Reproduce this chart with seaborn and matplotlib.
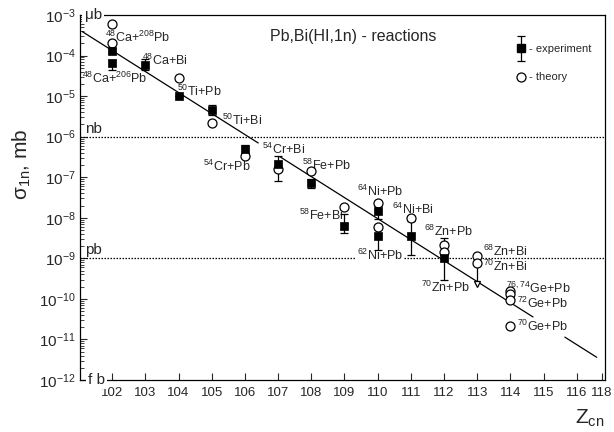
import numpy as np
import pandas as pd
import seaborn as sns
import matplotlib.pyplot as plt
from matplotlib.ticker import LogLocator, NullFormatter, FixedLocator, FixedFormatter
from matplotlib.legend_handler import HandlerErrorbar
from matplotlib.container import ErrorbarContainer

# data
exp_z = [102, 102, 103, 104, 105, 106, 107, 108, 109, 110, 110, 111, 112]
exp_sigma = [1.3e-4, 6.4e-5, 5.7e-5, 1.0e-5, 4.6e-6, 4.9e-7, 2.1e-7, 7.1e-8, 6.4e-9, 1.5e-8, 3.5e-9, 3.5e-9, 1.0e-9]
exp_low = [1.17e-4, 4.4e-5, 4.3e-5, 1.0e-5, 3.5e-6, 4.0e-7, 8.1e-8, 5.4e-8, 4.2e-9, 9.1e-9, 1.6e-9, 1.2e-9, 3.0e-10]
exp_high = [1.5e-4, 7.8e-5, 8.1e-5, 1.0e-5, 5.9e-6, 6.2e-7, 3.3e-7, 8.9e-8, 1.23e-8, 2.0e-8, 6.5e-9, 8.3e-9, 3.2e-9]

th_z = [102, 102, 104, 105, 106, 107, 108, 109, 110, 110, 111, 112, 112, 113, 113, 114, 114, 114, 114]
th_sigma = [6.0e-4, 2.0e-4, 2.75e-5, 2.2e-6, 3.3e-7, 1.6e-7, 1.4e-7, 1.8e-8, 2.35e-8, 5.9e-9, 1.0e-8,
            2.1e-9, 1.45e-9, 1.15e-9, 7.6e-10, 1.6e-10, 1.3e-10, 9.3e-11, 2.1e-11]

# upper limit (70Zn+Bi)
lim_z = [113]
lim_top = [6.5e-10]
lim_bottom = [2.3e-10]

# fitted line: end points (log10 sigma) and the pieces it is drawn in
fit_z = [101.1, 116.6]
fit_log = [-3.41, -11.44]
fit_pieces = [(101.1, 106.4), (107.05, 114.68), (115.64, 116.6)]

reactions = ["$^{48}$Ca+$^{208}$Pb", "$^{48}$Ca+Bi", "$^{48}$Ca+$^{206}$Pb", "$^{50}$Ti+Pb", "$^{50}$Ti+Bi",
             "$^{54}$Cr+Pb", "$^{54}$Cr+Bi", "$^{58}$Fe+Pb", "$^{58}$Fe+Bi", "$^{64}$Ni+Pb", "$^{64}$Ni+Bi",
             "$^{62}$Ni+Pb", "$^{68}$Zn+Pb", "$^{70}$Zn+Pb", "$^{68}$Zn+Bi", "$^{70}$Zn+Bi",
             "$^{76,74}$Ge+Pb", "$^{72}$Ge+Pb", "$^{70}$Ge+Pb"]
label_z = [101.78, 102.9, 101.09, 103.95, 105.3, 104.73, 106.5, 107.73, 107.62, 109.38, 110.42,
           109.38, 111.39, 111.32, 113.17, 113.16, 113.88, 114.2, 114.2]
label_log = [-3.55, -4.11, -4.56, -4.89, -5.59, -6.74, -6.31, -6.70, -7.95, -7.36, -7.79,
             -8.94, -8.34, -9.71, -8.84, -9.21, -9.74, -10.12, -10.68]
masked = ["$^{62}$Ni+Pb"]

x_ticks = list(range(102, 117)) + [116.76]
x_ticklabels = [str(z) for z in range(102, 117)] + ["118"]
y_decades = list(range(-12, -2))

exp = pd.DataFrame({"Z": exp_z, "sigma": exp_sigma})
th = pd.DataFrame({"Z": th_z, "sigma": th_sigma})

sns.set_style("ticks")
plt.rcParams["font.family"] = ["Liberation Sans", "DejaVu Sans"]
plt.rcParams["mathtext.fontset"] = "custom"
plt.rcParams["mathtext.rm"] = "Liberation Sans"
plt.rcParams["mathtext.it"] = "Liberation Sans:italic"
plt.rcParams["mathtext.default"] = "regular"

fig = plt.figure(figsize=(6.14, 4.32), dpi=100)
ax = fig.add_axes([80 / 614, 52 / 432, 525 / 614, 365 / 432])
ax.set_yscale("log")
ax.set_xlim(101.03, 116.85)
ax.set_ylim(1e-12, 1e-3)

# nb / pb levels
ax.axhline(1e-6, color="black", lw=0.9, ls=(0, (1.2, 1.2)), zorder=1)
ax.axhline(1e-9, color="black", lw=0.9, ls=(0, (1.2, 1.2)), zorder=1)

for z0, z1 in fit_pieces:
    zz = np.array([z0, z1])
    ax.plot(zz, 10 ** np.interp(zz, fit_z, fit_log), color="black", lw=0.9, zorder=2)

yerr = [np.array(exp_sigma) - np.array(exp_low), np.array(exp_high) - np.array(exp_sigma)]
ax.errorbar(exp_z, exp_sigma, yerr=yerr, fmt="none", ecolor="black", elinewidth=0.9,
            capsize=3, capthick=0.9, zorder=4)
sns.scatterplot(data=th, x="Z", y="sigma", marker="o", s=42, facecolor="white",
                edgecolor="black", linewidth=0.9, ax=ax, zorder=5)
sns.scatterplot(data=exp, x="Z", y="sigma", marker="s", s=34, color="black",
                edgecolor="black", linewidth=0.5, ax=ax, zorder=6)

# upper limit arrow
ax.vlines(lim_z, lim_bottom, lim_top, color="black", lw=0.9, zorder=4)
ax.plot(lim_z, lim_bottom, marker="v", ms=4.5, mfc="white", mec="black", mew=0.9, ls="none", zorder=4)

for txt, z, lg in zip(reactions, label_z, label_log):
    kw = {}
    if txt in masked:
        kw["bbox"] = dict(boxstyle="square,pad=0.05", fc="white", ec="none")
    ax.text(z, 10 ** lg, txt, fontsize=9, ha="left", va="center", zorder=3, **kw)

ax.text(0.52, 0.94, "Pb,Bi(HI,1n) - reactions", transform=ax.transAxes,
        fontsize=11.5, ha="center", va="center")

# unit markers on the left
box = dict(boxstyle="square,pad=0.15", fc="white", ec="none")
ax.text(0.009, 1.0, "μb", transform=ax.transAxes, fontsize=11, ha="left", va="center", bbox=box, zorder=7)
ax.text(0.015, 0.0, "f b", transform=ax.transAxes, fontsize=11, ha="left", va="center", bbox=box, zorder=7)
ax.text(0.009, 1.05e-6, "nb", transform=ax.get_yaxis_transform(), fontsize=11, ha="left", va="bottom")
ax.text(0.009, 1.05e-9, "pb", transform=ax.get_yaxis_transform(), fontsize=11, ha="left", va="bottom")

# legend
h_exp = ax.errorbar([np.nan], [np.nan], yerr=[[1], [1]], fmt="s", color="black", ms=5.5,
                    elinewidth=0.9, capsize=3, capthick=0.9)
h_th = ax.scatter([np.nan], [np.nan], marker="o", s=42, facecolor="white", edgecolor="black", linewidth=0.9)
ax.legend([h_exp, h_th], ["- experiment", "- theory"], loc="upper left", bbox_to_anchor=(0.818, 0.935),
          frameon=False, fontsize=8, handlelength=1.0, handletextpad=0.3, labelspacing=1.6, borderpad=0,
          handler_map={ErrorbarContainer: HandlerErrorbar(yerr_size=1.1)})

ax.xaxis.set_major_locator(FixedLocator(x_ticks))
ax.xaxis.set_major_formatter(FixedFormatter(x_ticklabels))
ax.yaxis.set_major_locator(FixedLocator([10.0 ** d for d in y_decades]))
ax.yaxis.set_major_formatter(FixedFormatter(["10$^{%d}$" % d for d in y_decades]))
ax.yaxis.set_minor_locator(LogLocator(base=10, subs=np.arange(2, 10), numticks=20))
ax.yaxis.set_minor_formatter(NullFormatter())
ax.tick_params(axis="x", direction="in", length=5, width=0.8, labelsize=9.5, pad=5)
ax.tick_params(axis="y", which="major", direction="in", length=5, width=0.8, labelsize=11, pad=3)
ax.tick_params(axis="y", which="minor", direction="in", length=3, width=0.6)
for sp in ax.spines.values():
    sp.set_linewidth(0.9)
    sp.set_color("black")

ax.set_xlabel("")
ax.set_ylabel("σ$_{1n}$, mb", fontsize=15)
ax.yaxis.set_label_coords(-0.09, 0.59)
ax.text(0.971, -0.104, "Z$_{cn}$", transform=ax.transAxes, fontsize=15, ha="center", va="center")

fig.savefig("out.png", dpi=100)
